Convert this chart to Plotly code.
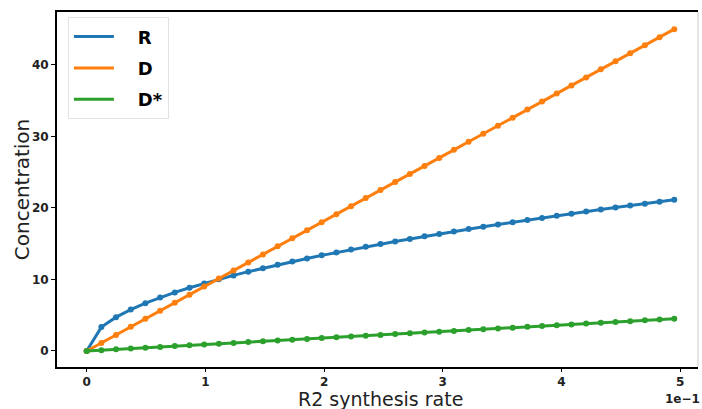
import plotly.graph_objects as go

# R2 synthesis rate (real units; axis shows values x 1e-1)
x_rate = [0.0, 0.012375, 0.02475, 0.037125, 0.0495, 0.061875, 0.07425, 0.086625, 0.099, 0.111375,
          0.12375, 0.136125, 0.1485, 0.160875, 0.17325, 0.185625, 0.198, 0.210375, 0.22275, 0.235125,
          0.2475, 0.259875, 0.27225, 0.284625, 0.297, 0.309375, 0.32175, 0.334125, 0.3465, 0.358875,
          0.37125, 0.383625, 0.396, 0.408375, 0.42075, 0.433125, 0.4455, 0.457875, 0.47025, 0.482625, 0.495]

R_vals = [0.0, 3.34, 4.73, 5.79, 6.68, 7.47, 8.19, 8.84, 9.45, 10.03,
          10.57, 11.09, 11.58, 12.05, 12.51, 12.94, 13.37, 13.78, 14.18, 14.57,
          14.95, 15.32, 15.67, 16.03, 16.37, 16.71, 17.04, 17.37, 17.69, 18.00,
          18.30, 18.61, 18.91, 19.20, 19.49, 19.77, 20.05, 20.33, 20.60, 20.87, 21.14]

D_vals = [0.0, 1.13, 2.25, 3.38, 4.5, 5.63, 6.75, 7.88, 9.0, 10.13,
          11.25, 12.38, 13.5, 14.63, 15.75, 16.88, 18.0, 19.13, 20.25, 21.38,
          22.5, 23.63, 24.75, 25.88, 27.0, 28.13, 29.25, 30.38, 31.5, 32.63,
          33.75, 34.88, 36.0, 37.13, 38.25, 39.38, 40.5, 41.63, 42.75, 43.88, 45.0]

Dstar_vals = [0.0, 0.11, 0.23, 0.34, 0.45, 0.56, 0.68, 0.79, 0.9, 1.01,
              1.13, 1.24, 1.35, 1.46, 1.58, 1.69, 1.8, 1.91, 2.03, 2.14,
              2.25, 2.36, 2.48, 2.59, 2.7, 2.81, 2.93, 3.04, 3.15, 3.26,
              3.38, 3.49, 3.6, 3.71, 3.83, 3.94, 4.05, 4.16, 4.28, 4.39, 4.5]

series_names = ["R", "D", "D*"]
series_colors = ["#1f77b4", "#ff7f0e", "#2ca02c"]
x_tickvals = [0.0, 0.1, 0.2, 0.3, 0.4, 0.5]
x_ticktext = ["0", "1", "2", "3", "4", "5"]
y_tickvals = [0, 10, 20, 30, 40]

fig = go.Figure()
for name, ys, col in zip(series_names, [R_vals, D_vals, Dstar_vals], series_colors):
    fig.add_trace(go.Scatter(x=x_rate, y=ys, mode="lines", name="\u00a0\u00a0\u00a0" + name,
                             legendgroup=name,
                             line=dict(color=col, width=3)))
    fig.add_trace(go.Scatter(x=x_rate, y=ys, mode="markers", showlegend=False,
                             marker=dict(color=col, size=6), hoverinfo="skip"))

fig.update_layout(
    width=702, height=409,
    margin=dict(l=57, r=4, t=12, b=42),
    paper_bgcolor="white", plot_bgcolor="white",
    showlegend=True,
    legend=dict(x=0.017, y=0.985, xanchor="left", yanchor="top",
                bgcolor="rgba(255,255,255,0.9)", bordercolor="#e2e2e2", borderwidth=1,
                font=dict(family="DejaVu Sans", size=18, color="black", weight="bold"),
                tracegroupgap=5, itemwidth=40),
    xaxis=dict(range=[-0.025, 0.515], tickvals=x_tickvals, ticktext=x_ticktext,
               showgrid=False, zeroline=False, showline=True, linecolor="black", linewidth=2,
               mirror=True, ticks="outside", ticklen=3, tickcolor="black",
               tickfont=dict(family="DejaVu Sans", size=12, color="#222", weight="bold")),
    yaxis=dict(range=[-2.24, 47.4], tickvals=y_tickvals,
               showgrid=False, zeroline=False, showline=True, linecolor="black", linewidth=2,
               ticks="outside", ticklen=4, tickcolor="black",
               tickfont=dict(family="DejaVu Sans", size=12, color="#222", weight="bold")),
)
fig.add_shape(type="line", xref="paper", yref="paper", x0=1, x1=1, y0=0, y1=1,
              line=dict(color="#cccccc", width=1))
fig.add_annotation(text="R2 synthesis rate", xref="paper", yref="paper", x=0.505, y=-0.089,
                   xanchor="center", yanchor="middle", showarrow=False,
                   font=dict(family="DejaVu Sans", size=19, color="#222"))
fig.add_annotation(text="Concentration", xref="paper", yref="paper", x=-0.055, y=0.5,
                   xanchor="center", yanchor="middle", showarrow=False, textangle=-90,
                   font=dict(family="DejaVu Sans", size=20, color="#222"))
fig.add_annotation(text="1e\u22121", xref="paper", yref="paper", x=1.007, y=-0.065,
                   xanchor="right", yanchor="top", showarrow=False,
                   font=dict(family="DejaVu Sans", size=12, color="#222", weight="bold"))
fig.write_html("out.html")
